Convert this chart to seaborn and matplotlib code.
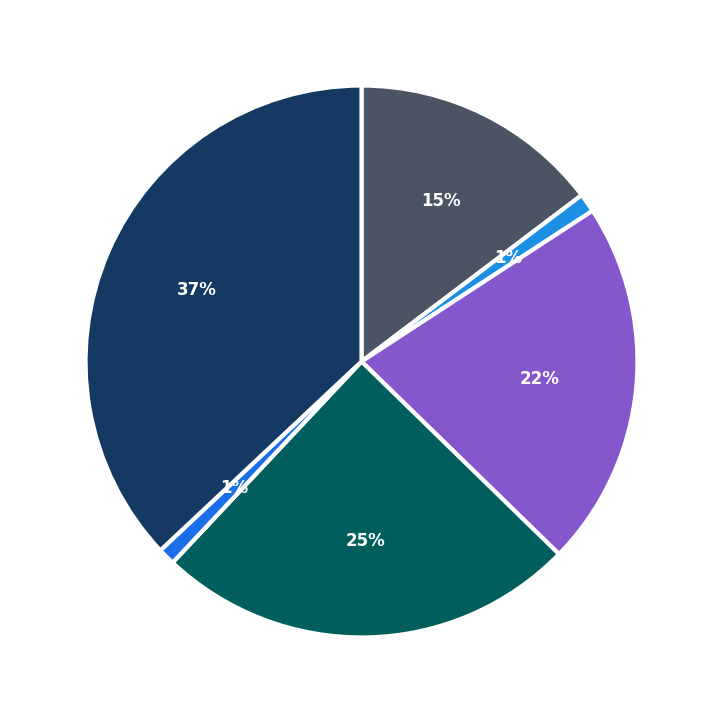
import matplotlib
matplotlib.use("Agg")
import matplotlib.pyplot as plt
import seaborn as sns

sns.set_theme(style="white")
labels = ["A", "B", "C", "D", "E", "F"]
values = [14.7, 1.1, 21.5, 24.7, 1.0, 37.0]
colors = ["#4a5463", "#1a8fe3", "#8557cc", "#005f5c", "#1a6fe8", "#143a63"]

fig = plt.figure(figsize=(7.23, 7.23), dpi=100)
ax = fig.add_axes([0, 0, 1, 1])
wedges, texts, autotexts = ax.pie(values, colors=colors, startangle=90, counterclock=False,
       autopct="%.0f%%", pctdistance=0.65,
       wedgeprops=dict(edgecolor="white", linewidth=3),
       textprops=dict(color="white", fontsize=12, fontweight="bold"))
ax.set_xlim(-1.31, 1.31)
ax.set_ylim(-1.31, 1.31)
ax.set_aspect("equal")
ax.axis("off")
fig.savefig("out.png", dpi=100)
